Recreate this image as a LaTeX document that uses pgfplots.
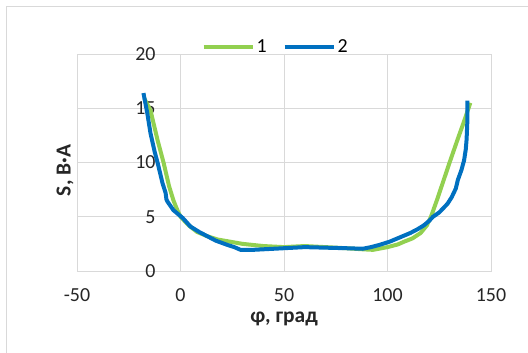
\documentclass[border=0pt]{standalone}
\usepackage{pgfplots}
\pgfplotsset{compat=1.18}
\usepackage{fontspec}
\setmainfont{Carlito}
\definecolor{gA}{HTML}{92D050}
\definecolor{bB}{HTML}{0070C0}
\definecolor{gridc}{HTML}{D9D9D9}
\begin{document}
\begin{tikzpicture}
\useasboundingbox (0,0) rectangle (528bp,353bp);
\draw[gridc, line width=1.2bp] (6.5bp,-5bp) |- (540bp,346.5bp);
\begin{axis}[
  at={(77bp,82bp)}, anchor=south west,
  scale only axis, width=414bp, height=217bp,
  xmin=-50, xmax=150, ymin=0, ymax=20,
  xtick={-50,0,50,100,150}, ytick={0,5,10,15,20},
  grid=major, grid style={gridc, line width=0.8bp},
  axis line style={gridc, line width=0.8bp},
  major tick length=0,
  /pgf/number format/assume math mode=true,
  tick label style={font=\fontsize{20}{24}\selectfont, text=black!85},
  yticklabel style={xshift=82bp},
  xticklabel style={yshift=-14bp},
  xlabel={\textbf{φ, град}}, ylabel={\textbf{S, В·А}},
  label style={font=\fontsize{21.5}{25}\selectfont, text=black!85},
  xlabel style={at={(0.5,0)}, anchor=base, yshift=-51bp},
  ylabel style={at={(0,0.5)}, anchor=south, xshift=-8bp, rotate=0},
  legend columns=2,
  legend style={at={(0.48,1.0)}, anchor=south, draw=none, fill=none,
    font=\fontsize{20}{24}\selectfont, yshift=-4bp,
    /tikz/every even column/.append style={column sep=14bp}},
  legend image code/.code={\draw[#1] (0bp,0bp) -- (49bp,0bp);},
]
\addplot[gA, line width=4bp, line join=round] coordinates {
(-17.5,15.9) (-14.5,14.8) (-11,12) (-8.2,10) (-5.5,7.8) (-3.4,6.5) (-1.5,5.6) (0,5.0) (4,4.2) (8,3.6) (13,3.2) (18,2.9) (24,2.7) (30,2.5) (40,2.3) (50,2.2) (60,2.3) (70,2.2) (80,2.1) (88,2.0) (93,1.95) (100,2.2) (105,2.45) (108,2.7) (112,3.0) (116,3.5) (119,4.2) (121,5.0) (124,6.6) (127,8.3) (130,10.0) (134,12.2) (137,13.8) (140,15.5)
};
\addlegendentry{1}
\addplot[bB, line width=4bp, line join=round] coordinates {
(-17.9,16.4) (-16,14.5) (-14.5,12.7) (-12.5,11.0) (-11.1,10.0) (-10.2,9.3) (-8.7,8.1) (-7.2,7.2) (-6.8,6.6) (-6.3,6.4) (-3.4,5.6) (1,4.9) (4.8,4.1) (9,3.6) (13,3.2) (17,2.8) (22.7,2.4) (26,2.2) (29,1.95) (35,1.95) (40,2.0) (50,2.1) (60,2.2) (70,2.15) (80,2.1) (88,2.05) (92,2.2) (96,2.4) (101,2.7) (106,3.1) (111,3.5) (114.5,3.85) (117.5,4.2) (120,4.6) (122,5.0) (125,5.4) (127,5.8) (129,6.2) (131,6.8) (133,7.6) (134,8.4) (135.7,9.3) (137,10.2) (137.8,11.2) (138.2,12.1) (138.6,13.9) (138.6,15.7)
};
\addlegendentry{2}
\end{axis}
\end{tikzpicture}
\end{document}
